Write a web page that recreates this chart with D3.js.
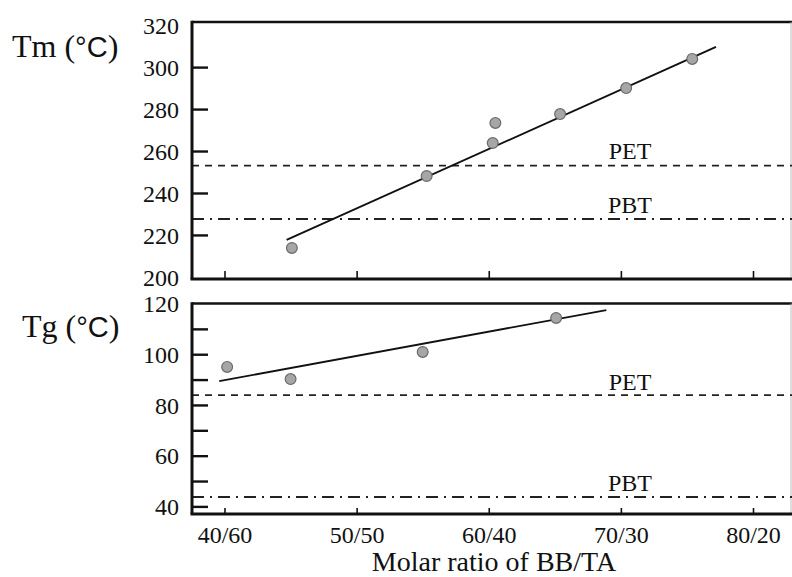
<!DOCTYPE html>
<html>
<head>
<meta charset="utf-8">
<script src="https://cdn.jsdelivr.net/npm/d3@7"></script>
<style>
  html, body { margin: 0; padding: 0; background: #fff; }
  svg { display: block; }
  text { fill: #111; }
  .serif, .serif text { font-family: "Liberation Serif", "Times New Roman", Times, serif; }
  .sans { font-family: "Liberation Sans", Arial, Helvetica, sans-serif; }
</style>
</head>
<body>
<svg id="chart" width="792" height="577"></svg>
<script>
// Molar ratio BB/TA, expressed as BB mol %
const xTickValues = [40, 50, 60, 70, 80];
const xTickLabels = ["40/60", "50/50", "60/40", "70/30", "80/20"];

// Melting temperature Tm (°C)
const tmRatio = [45.1, 55.3, 60.5, 60.3, 65.4, 70.4, 75.4];
const tmValue = [213.8, 248.1, 273.4, 263.8, 277.6, 290.0, 303.9];
const tmFitRatio = [44.7, 77.2];
const tmFitValue = [217.6, 309.6];
const tmTicks = [200, 220, 240, 260, 280, 300, 320];
const tmRefPET = 253.0;
const tmRefPBT = 227.6;

// Glass transition temperature Tg (°C)
const tgRatio = [40.2, 45.0, 55.0, 65.1];
const tgValue = [95.0, 90.2, 100.9, 114.3];
const tgFitRatio = [39.6, 68.9];
const tgFitValue = [89.4, 117.4];
const tgTicks = [40, 50, 60, 70, 80, 90, 100, 110, 120];
const tgTickLabels = [40, 60, 80, 100, 120];
const tgRefPET = 83.9;
const tgRefPBT = 43.7;

const refNames = ["PET", "PBT"];

const svg = d3.select("#chart");
svg.append("rect").attr("width", 792).attr("height", 577).attr("fill", "#fff");

const serifFont = '"Liberation Serif", "Times New Roman", Times, serif';
const left = 192, right = 791;

const x = d3.scaleLinear().domain([40, 80]).range([224.5, 753]);

function panel(opts) {
  const g = svg.append("g");
  const y = d3.scaleLinear().domain(opts.yDomain).range([opts.bottom, opts.top]);

  // frame: top border, faint right border
  g.append("line").attr("x1", left).attr("x2", 792).attr("y1", opts.top).attr("y2", opts.top)
    .attr("stroke", "#111").attr("stroke-width", 2.6);
  g.append("line").attr("x1", right).attr("x2", right).attr("y1", opts.top).attr("y2", opts.bottom)
    .attr("stroke", "#bbb").attr("stroke-width", 1);

  // reference lines for the homopolyesters
  const refs = [
    { name: refNames[0], v: opts.pet, dash: "7,6", ly: opts.petLabelY },
    { name: refNames[1], v: opts.pbt, dash: "12,6,2,6", ly: opts.pbtLabelY }
  ];
  refs.forEach(r => {
    g.append("line")
      .attr("x1", left).attr("x2", 792)
      .attr("y1", y(r.v)).attr("y2", y(r.v))
      .attr("stroke", "#222").attr("stroke-width", 1.8)
      .attr("stroke-dasharray", r.dash);
    g.append("text")
      .attr("x", 630).attr("y", r.ly)
      .attr("text-anchor", "middle")
      .style("font-family", serifFont).style("font-size", "24px")
      .text(r.name);
  });

  // linear trend
  const fit = opts.fitX.map((d, i) => [d, opts.fitY[i]]);
  g.append("path")
    .attr("d", d3.line().x(d => x(d[0])).y(d => y(d[1]))(fit))
    .attr("fill", "none").attr("stroke", "#111").attr("stroke-width", 1.9);

  // measured points
  const pts = opts.px.map((d, i) => [d, opts.py[i]]);
  g.selectAll("circle.pt").data(pts).join("circle")
    .attr("class", "pt")
    .attr("cx", d => x(d[0])).attr("cy", d => y(d[1]))
    .attr("r", 5.4)
    .attr("fill", "#a6a6a6").attr("stroke", "#6a6a6a").attr("stroke-width", 1.2);

  // y axis with inward ticks
  const yAxis = d3.axisLeft(y)
    .tickValues(opts.yTicks)
    .tickSizeInner(-16).tickSizeOuter(0).tickPadding(13)
    .tickFormat(d => opts.yLabels.includes(d) ? d : "");
  const ya = g.append("g").attr("transform", `translate(${left},0)`).call(yAxis)
    .attr("font-family", null).attr("font-size", null).attr("class", "serif");
  ya.select(".domain").attr("stroke", "#111").attr("stroke-width", 3)
    .attr("d", `M0,${opts.top - 1.3}V${opts.bottom}`);
  ya.selectAll(".tick line").attr("stroke", "#111").attr("stroke-width", 2.4)
    .filter(d => opts.noTickLine.includes(d)).remove();
  ya.selectAll(".tick text")
    .style("font-family", serifFont).style("font-size", "24px").attr("fill", "#111")
    .attr("dy", "0.34em");

  // x axis with short inward ticks
  const xAxis = d3.axisBottom(x)
    .tickValues(xTickValues)
    .tickSizeInner(-opts.xTickLen).tickSizeOuter(0).tickPadding(opts.xPad)
    .tickFormat((d, i) => opts.showX ? xTickLabels[i] : "");
  const xa = g.append("g").attr("transform", `translate(0,${opts.bottom})`).call(xAxis)
    .attr("font-family", null).attr("font-size", null).attr("class", "serif");
  xa.select(".domain").attr("stroke", "#111").attr("stroke-width", 2.8)
    .attr("d", `M${left - 1.5},0H792`);
  xa.selectAll(".tick line").attr("stroke", "#111").attr("stroke-width", 1.6);
  xa.selectAll(".tick text")
    .style("font-family", serifFont).style("font-size", "24px").attr("fill", "#111");

  // panel title
  const t = svg.append("text").attr("x", opts.titleX).attr("y", opts.titleY)
    .style("font-family", serifFont).style("font-size", "32px");
  t.append("tspan").text(opts.title + " (");
  t.append("tspan").attr("class", "sans")
    .style("font-family", '"Liberation Sans", Arial, sans-serif')
    .style("font-size", "29px").text("°C");
  t.append("tspan").text(")");
}

panel({
  top: 22, bottom: 279, yDomain: [199, 321.5],
  yTicks: tmTicks, yLabels: tmTicks, noTickLine: [200, 320],
  px: tmRatio, py: tmValue, fitX: tmFitRatio, fitY: tmFitValue,
  pet: tmRefPET, pbt: tmRefPBT, petLabelY: 159, pbtLabelY: 213,
  xTickLen: 8, xPad: 4, showX: false,
  title: "Tm", titleX: 12, titleY: 57
});

panel({
  top: 303.5, bottom: 514, yDomain: [37, 120],
  yTicks: tgTicks, yLabels: tgTickLabels, noTickLine: [120],
  px: tgRatio, py: tgValue, fitX: tgFitRatio, fitY: tgFitValue,
  pet: tgRefPET, pbt: tgRefPBT, petLabelY: 390, pbtLabelY: 491,
  xTickLen: 6, xPad: 12, showX: true,
  title: "Tg", titleX: 22, titleY: 337
});

// x axis title
svg.append("text")
  .attr("x", 494).attr("y", 571)
  .attr("text-anchor", "middle")
  .style("font-family", serifFont).style("font-size", "28px")
  .text("Molar ratio of BB/TA");
</script>
</body>
</html>
